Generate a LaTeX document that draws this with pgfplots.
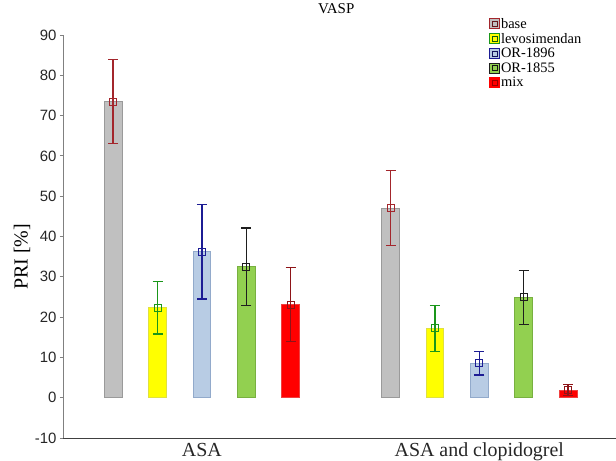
\documentclass[border=0pt]{standalone}
\usepackage{fontspec}
\setmainfont{Liberation Serif}
\setsansfont{Liberation Sans}
\usepackage{pgfplots}
\pgfplotsset{compat=1.18}

\definecolor{grayfill}{HTML}{C0C0C0}
\definecolor{graybd}{HTML}{9A9A9A}
\definecolor{yelfill}{HTML}{FFFF00}
\definecolor{yelbd}{HTML}{E0E040}
\definecolor{bluefill}{HTML}{B8CCE4}
\definecolor{bluebd}{HTML}{92AACB}
\definecolor{grnfill}{HTML}{92D050}
\definecolor{grnbd}{HTML}{78B040}
\definecolor{redfill}{HTML}{FF0000}
\definecolor{redbd}{HTML}{F04040}
\definecolor{errbase}{HTML}{A3262C}
\definecolor{errlevo}{HTML}{1A961A}
\definecolor{errblue}{HTML}{1C1C94}
\definecolor{errgrn}{HTML}{1E1E1E}
\definecolor{errmix}{HTML}{8E1418}

% bar: fill, border ; errbar: colour
\pgfplotsset{
  mybar/.style 2 args={ybar, bar width=0.4, bar shift=0pt, fill=#1, draw=#2, line width=0.8bp, forget plot},
  myerr/.style={only marks, mark=square, mark size=3.5bp, color=#1, line width=1.3bp, forget plot,
    mark options={line width=0.9bp, draw=#1},
    error bars/.cd, y dir=both, y explicit,
    error bar style={line width=1.3bp, draw=#1, color=#1},
    error mark options={rotate=90, mark size=5bp, line width=1.3bp, draw=#1, color=#1}},
  legimg/.style 2 args={legend image code/.code={
    \draw[draw=#2, fill=#1, line width=0.8bp] (0bp,-5bp) rectangle (10bp,5bp);
    \draw[draw=#2!60!black, line width=0.8bp] (2.5bp,-2.5bp) rectangle (7.5bp,2.5bp);}}
}

\begin{document}
\begin{tikzpicture}
\begin{axis}[
  scale only axis, width=553bp, height=403bp,
  xmin=-0.13, xmax=12.33, ymin=-10, ymax=90,
  axis x line*=bottom, axis y line*=left,
  x axis line style={color=black!75, line width=0.9bp},
  y axis line style={color=black!50, line width=0.9bp},
  xtick={3,9.25}, xticklabels={ASA, ASA and clopidogrel},
  major x tick style={draw=none},
  ytick={-10,0,...,90},
  tick align=outside, major tick length=3bp,
  y tick style={color=black!50, line width=0.9bp},
  /pgf/number format/assume math mode=true,
  xticklabel style={font=\fontsize{20}{22}\selectfont, color=black!85, yshift=1.5bp},
  yticklabel style={font=\sffamily\fontsize{15}{16}\selectfont, color=black!85},
  title={VASP},
  title style={font=\fontsize{15}{16}\selectfont, at={(axis description cs:0.494,1.05)}, anchor=center},
  ylabel={PRI [\%]},
  ylabel style={font=\fontsize{20}{22}\selectfont, at={(axis description cs:-0.074,0.449)}, anchor=center},
  legend style={draw=none, fill=none, at={(axis description cs:0.765,1.05)}, anchor=north west,
    font=\fontsize{14.5}{15}\selectfont, nodes={inner sep=1bp}, row sep=1.5bp,
    /tikz/every even column/.append style={column sep=6bp}},
  legend cell align=left,
  clip=false,
]
% bars: ASA at 1..5, ASA and clopidogrel at 7.25..11.25
\addplot[mybar={grayfill}{graybd}] coordinates {(1,73.5) (7.25,47.0)};
\addplot[mybar={yelfill}{yelbd}] coordinates {(2,22.3) (8.25,17.2)};
\addplot[mybar={bluefill}{bluebd}] coordinates {(3,36.2) (9.25,8.5)};
\addplot[mybar={grnfill}{grnbd}] coordinates {(4,32.5) (10.25,24.9)};
\addplot[mybar={redfill}{redbd}] coordinates {(5,23.1) (11.25,1.9)};

% means with error bars, one plot per bar
\addplot[myerr=errbase] coordinates {(1,73.5) +- (0,10.5)};
\addplot[myerr=errbase] coordinates {(7.25,47.0) +- (0,9.3)};
\addplot[myerr=errlevo] coordinates {(2,22.3) +- (0,6.5)};
\addplot[myerr=errlevo] coordinates {(8.25,17.2) +- (0,5.7)};
\addplot[myerr=errblue] coordinates {(3,36.2) +- (0,11.7)};
\addplot[myerr=errblue] coordinates {(9.25,8.5) +- (0,2.9)};
\addplot[myerr=errgrn] coordinates {(4,32.5) +- (0,9.6)};
\addplot[myerr=errgrn] coordinates {(10.25,24.9) +- (0,6.7)};
\addplot[myerr=errmix] coordinates {(5,23.1) +- (0,9.2)};
\addplot[myerr=errmix] coordinates {(11.25,1.9) +- (0,1.4)};

\addlegendimage{legimg={grayfill}{errbase}}
\addlegendentry{base}
\addlegendimage{legimg={yelfill}{errlevo}}
\addlegendentry{levosimendan}
\addlegendimage{legimg={bluefill}{errblue}}
\addlegendentry{OR-1896}
\addlegendimage{legimg={grnfill}{errgrn}}
\addlegendentry{OR-1855}
\addlegendimage{legimg={redfill}{redfill}}
\addlegendentry{mix}

\coordinate (bbsw) at (axis description cs:-0.1139,-0.0571);
\coordinate (bbne) at (axis description cs:1.0,1.0868);
\end{axis}
\pgfresetboundingbox
\useasboundingbox (bbsw) rectangle (bbne);
\end{tikzpicture}
\end{document}
